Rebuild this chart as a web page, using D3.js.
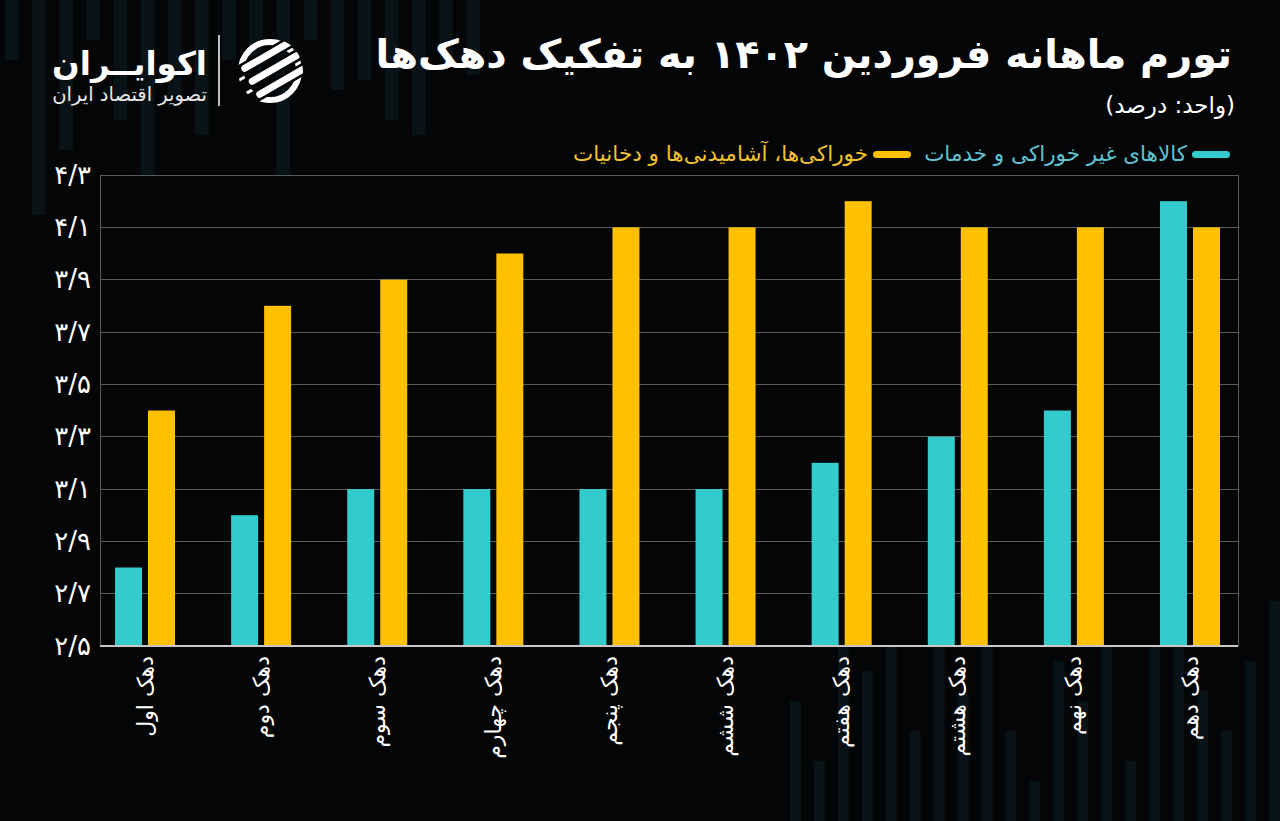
<!DOCTYPE html>
<html><head><meta charset="utf-8">
<script src="https://cdn.jsdelivr.net/npm/d3@7/dist/d3.min.js"></script>
<style>
html,body{margin:0;padding:0;background:#040506;}
svg{display:block;}
text{font-family:"DejaVu Sans","Noto Sans",sans-serif;}
</style></head>
<body>
<svg id="chart" width="1280" height="821"></svg>
<script>
// ---- data ----
const categories = ["دهک اول","دهک دوم","دهک سوم","دهک چهارم","دهک پنجم","دهک ششم","دهک هفتم","دهک هشتم","دهک نهم","دهک دهم"];
const seriesNames = ["کالاهای غیر خوراکی و خدمات","خوراکی‌ها، آشامیدنی‌ها و دخانیات"];
const nonFood = [2.8, 3.0, 3.1, 3.1, 3.1, 3.1, 3.2, 3.3, 3.4, 4.2];
const food    = [3.4, 3.8, 3.9, 4.0, 4.1, 4.1, 4.2, 4.1, 4.1, 4.1];
const yTicks  = [2.5, 2.7, 2.9, 3.1, 3.3, 3.5, 3.7, 3.9, 4.1, 4.3];
const titleText = "تورم ماهانه فروردین ۱۴۰۲ به تفکیک دهک‌ها";
const unitText = "(واحد: درصد)";
const brandName = "اکوایــران";
const brandSub = "تصویر اقتصاد ایران";
// decorative background stripes (heights only)
const decoTop = [60,215,150,40,120,210,95,135,60,70,220,40,90,80,120,135,60,75];
const decoBottom = [120,60,200,150,235,90,260,130,180,90,40,160,120,230,60,200,250,130,90,160,220];

const colors = ["#33cbcc", "#ffc000"];
const legendTextColors = ["#5ec3d3", "#f2c12e"];

(function(){
const svg = d3.select("#chart");
const W = 1280, H = 821;
const fa = v => String(v).replace(/[0-9]/g, c => "۰۱۲۳۴۵۶۷۸۹"[+c]).replace(".", "/");

// background decoration
const deco = svg.append("g");
const xTop = d3.scaleBand().domain(d3.range(decoTop.length)).range([5, 480]).paddingInner(0.5);
deco.selectAll("rect.t").data(decoTop).join("rect").attr("class","t")
  .attr("x", (d,i)=>xTop(i)).attr("y",0).attr("width", xTop.bandwidth()).attr("height", d=>d)
  .attr("fill", "#0b1a20").attr("opacity", 0.7);
const xBot = d3.scaleBand().domain(d3.range(decoBottom.length)).range([790, 1280]).paddingInner(0.55);
deco.selectAll("rect.b").data(decoBottom).join("rect").attr("class","b")
  .attr("x", (d,i)=>xBot(i)).attr("y", d=>H-d).attr("width", xBot.bandwidth()).attr("height", d=>d)
  .attr("fill", "#0b1a20").attr("opacity", 0.7);

// plot geometry
const pL = 100, pR = 1238, pT = 175, pB = 646;
const y = d3.scaleLinear().domain([2.5, 4.3]).range([pB, pT]);
const x = d3.scalePoint().domain(categories).range([145, 1190]);
const xs = d3.scaleBand().domain([0,1]).range([-30, 30]).paddingInner(0.182);

const g = svg.append("g");
g.append("rect").attr("x",pL).attr("y",pT).attr("width",pR-pL).attr("height",pB-pT).attr("fill","#040506");
// gridlines
g.selectAll("line.grid").data(yTicks).join("line").attr("class","grid")
  .attr("x1", pL).attr("x2", pR).attr("y1", d=>y(d)).attr("y2", d=>y(d))
  .attr("stroke", "#5a5a5a").attr("stroke-width", 1).attr("shape-rendering","crispEdges");
// frame sides
g.append("line").attr("x1", pL).attr("x2", pL).attr("y1", pT).attr("y2", pB)
  .attr("stroke", "#5a5a5a").attr("shape-rendering","crispEdges");
g.append("line").attr("x1", pR).attr("x2", pR).attr("y1", pT).attr("y2", pB)
  .attr("stroke", "#5a5a5a").attr("shape-rendering","crispEdges");

// bars
const series = [nonFood, food];
series.forEach((vals, s) => {
  g.selectAll("rect.s"+s).data(vals).join("rect")
    .attr("class","s"+s)
    .attr("x", (d,i)=> x(categories[i]) + xs(s))
    .attr("width", xs.bandwidth())
    .attr("y", d => y(d))
    .attr("height", d => pB - y(d))
    .attr("fill", colors[s]);
});
// bottom axis line
g.append("line").attr("x1", pL).attr("x2", pR).attr("y1", pB).attr("y2", pB)
  .attr("stroke", "#c8c8c8").attr("stroke-width", 2);

// y tick labels
const yAxis = d3.axisLeft(y).tickValues(yTicks).tickFormat(fa).tickSize(0).tickPadding(9);
const ya = svg.append("g").attr("transform", `translate(${pL},0)`).call(yAxis);
ya.select(".domain").remove();
ya.selectAll("text").attr("fill", "#ffffff").attr("font-size", 26).attr("font-weight", "normal")
  .style("font-family", '"DejaVu Sans", sans-serif').attr("direction","ltr");

// x labels
svg.append("g").selectAll("text").data(categories).join("text")
  .attr("transform", d => `translate(${x(d)},656) rotate(-90)`)
  .attr("text-anchor", "end").attr("dominant-baseline", "central")
  .attr("fill", "#ffffff").attr("font-size", 22).text(d => d);

// title
const title = svg.append("text").attr("x", 1232).attr("y", 68).attr("text-anchor", "end")
  .attr("fill", "#ffffff").attr("font-size", 38).attr("font-weight", "bold").text(titleText);
{ const w = title.node().getBBox().width; if (w > 0) title.attr("font-size", 38 * 857 / w); }
svg.append("text").attr("x", 1235).attr("y", 113).attr("text-anchor", "end")
  .attr("fill", "#ffffff").attr("font-size", 23).text(unitText);

// legend
const legendItems = [
  {name: seriesNames[0], color: colors[0], tc: legendTextColors[0], rx: 1192, tx: 1187},
  {name: seriesNames[1], color: colors[1], tc: legendTextColors[1], rx: 873, tx: 868}
];
const lg = svg.append("g");
legendItems.forEach(it => {
  lg.append("rect").attr("x", it.rx).attr("y", 151).attr("width", 38).attr("height", 7).attr("rx", 3.5)
    .attr("fill", it.color);
  lg.append("text").attr("x", it.tx).attr("y", 161).attr("text-anchor","end")
    .attr("fill", it.tc).attr("font-size", 21.5).text(it.name);
});

// brand
const brand = svg.append("g");
const bn = brand.append("text").attr("x", 207).attr("y", 75).attr("text-anchor","end")
  .attr("fill","#ffffff").attr("font-size", 40).attr("font-weight","bold").text(brandName);
{ const w = bn.node().getBBox().width; if (w > 0) bn.attr("font-size", 40 * 155 / w); }
const bs = brand.append("text").attr("x", 207).attr("y", 101).attr("text-anchor","end")
  .attr("fill","#e8e8e8").attr("font-size", 16).text(brandSub);
{ const w = bs.node().getBBox().width; if (w > 0) bs.attr("font-size", 16 * 155 / w); }
brand.append("line").attr("x1", 219).attr("x2", 219).attr("y1", 35).attr("y2", 106)
  .attr("stroke", "#ffffff").attr("stroke-width", 1.5);
// icon: ring with three diagonal swooshes
const cx = 270, cy = 71, r = 33;
const defs = svg.append("defs");
defs.append("clipPath").attr("id","ring").append("circle").attr("cx",cx).attr("cy",cy).attr("r",r);
const icon = brand.append("g").attr("clip-path","url(#ring)");
icon.append("circle").attr("cx",cx).attr("cy",cy).attr("r",r-4).attr("fill","none")
  .attr("stroke","#ffffff").attr("stroke-width",6);
[-15, 0, 15].forEach(off => {
  icon.append("rect").attr("x", cx-60).attr("y", cy+off-6).attr("width", 120).attr("height", 12)
    .attr("transform", `rotate(-30,${cx},${cy})`).attr("fill","#040506");
  icon.append("rect").attr("x", cx-24).attr("y", cy+off-3.5).attr("width", 58).attr("height", 7).attr("rx", 3.5)
    .attr("transform", `rotate(-30,${cx},${cy})`).attr("fill","#ffffff");
});
})();
</script>
</body></html>
